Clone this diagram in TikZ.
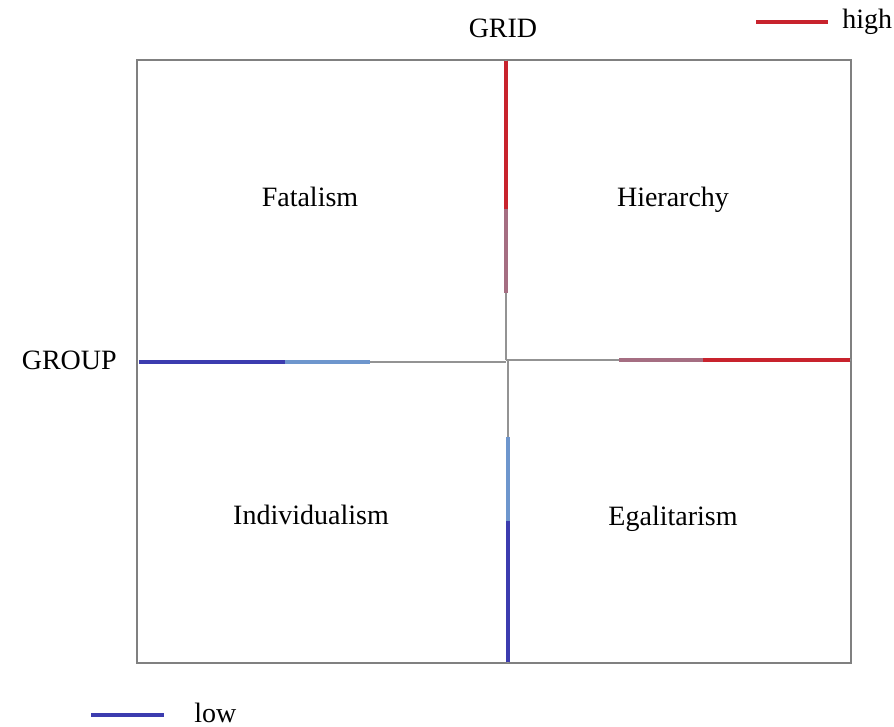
\documentclass[tikz,border=0pt]{standalone}
\usepackage{fontspec}
\setmainfont{Liberation Serif}
\definecolor{hired}{RGB}{200,35,45}
\definecolor{midred}{RGB}{165,110,130}
\definecolor{lowblue}{RGB}{60,60,175}
\definecolor{midblue}{RGB}{110,150,205}
\tikzset{
  word/.style={font=\fontsize{21}{25}\selectfont, inner sep=0pt, anchor=base},
  frame/.style={gray, line width=1.5pt},
  cut/.style={gray!85, line width=2.2pt},
  hiline/.style={hired, line width=3pt},
  midhi/.style={midred, line width=2.4pt},
  loline/.style={lowblue, line width=3pt},
  midlo/.style={midblue, line width=2.4pt}
}
\begin{document}
\begin{tikzpicture}[x=0.75pt, y=-0.75pt]
    \useasboundingbox (0,0) rectangle (894,727);
    \draw[frame] (137,60) rectangle (851,663);

    % dividers
    \draw[cut] (506,60) -- (506,360);
    \draw[cut] (508,360) -- (508,663);
    \draw[cut] (139,362) -- (506,362);
    \draw[cut] (506,360) -- (851,360);

    % grid axis
    \draw[midhi] (506,209) -- (506,293);
    \draw[hiline] (506,61) -- (506,209);
    \draw[midlo] (508,437) -- (508,521);
    \draw[loline] (508,521) -- (508,662);

    % group axis
    \draw[loline] (139,362) -- (285,362);
    \draw[midlo] (285,362) -- (370,362);
    \draw[midhi] (619,360) -- (703,360);
    \draw[hiline] (703,360) -- (850,360);

    \node[word] (grid) at (503,38) {GRID};
    \node[word, anchor=base east] (group) at (117,370) {GROUP};

    \node[word] (fatal) at (310,207) {Fatalism};
    \node[word] (hier) at (673,207) {Hierarchy};
    \node[word] (indiv) at (311,525) {Individualism};
    \node[word] (egal) at (673,526) {Egalitarism};

    % legend
    \draw[hiline] (756,22) -- (828,22);
    \node[word, anchor=base west] (high) at (842,29) {high};
    \draw[loline] (91,715) -- (164,715);
    \node[word, anchor=base west] (low) at (194,722) {low};
\end{tikzpicture}
\end{document}
